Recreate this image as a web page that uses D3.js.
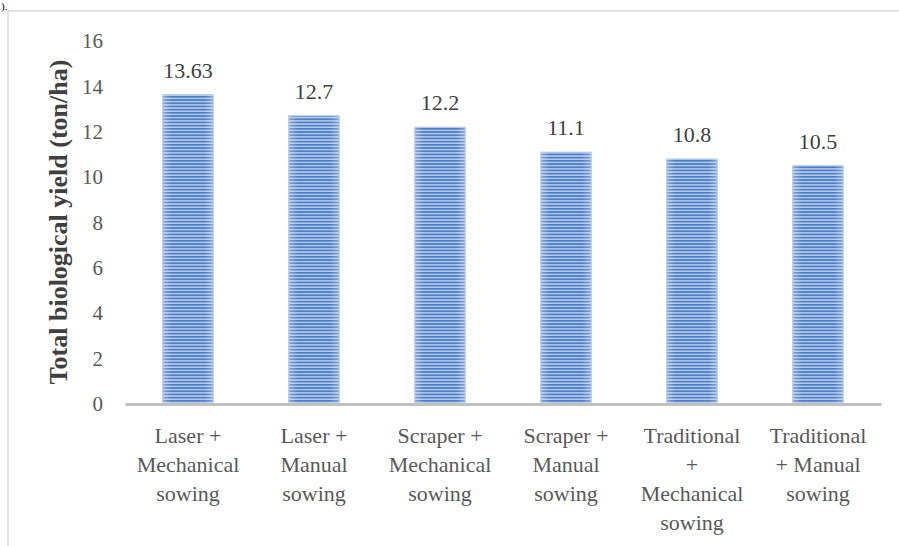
<!DOCTYPE html>
<html>
<head>
<meta charset="utf-8">
<script src="https://cdn.jsdelivr.net/npm/d3@7"></script>
<style>
  html, body { margin: 0; padding: 0; background: #ffffff; }
  svg { display: block; }
  text { font-family: "Liberation Serif", "Times New Roman", serif; }
</style>
</head>
<body>
<svg id="chart" width="899" height="546"></svg>
<script>
// Treatment combinations and their total biological yield (ton/ha)
const categories = [
  "Laser + Mechanical sowing",
  "Laser + Manual sowing",
  "Scraper + Mechanical sowing",
  "Scraper + Manual sowing",
  "Traditional + Mechanical sowing",
  "Traditional + Manual sowing"
];
const yieldValues = [13.63, 12.7, 12.2, 11.1, 10.8, 10.5];
const valueLabels = ["13.63", "12.7", "12.2", "11.1", "10.8", "10.5"];
const yTicks = [0, 2, 4, 6, 8, 10, 12, 14, 16];
const yTitle = "Total biological yield (ton/ha)";

const svg = d3.select("#chart");

// Plot area geometry
const plot = { left: 125, right: 881, top: 41, bottom: 404 };

const x = d3.scaleBand()
  .domain(categories)
  .range([plot.left, plot.right])
  .paddingInner(0.6)
  .paddingOuter(0.3);

const y = d3.scaleLinear()
  .domain([0, 16])
  .range([plot.bottom, plot.top]);

// Horizontal-line fill used by the bars
const defs = svg.append("defs");
const pat = defs.append("pattern")
  .attr("id", "hlines")
  .attr("patternUnits", "userSpaceOnUse")
  .attr("width", 8)
  .attr("height", 3.2);
pat.append("rect").attr("width", 8).attr("height", 3.2).attr("fill", "#b3cbec");
pat.append("rect").attr("y", 0).attr("width", 8).attr("height", 1.7).attr("fill", "#4d7cc3");

const sheen = defs.append("linearGradient")
  .attr("id", "sheen")
  .attr("x1", "0").attr("x2", "1").attr("y1", "0").attr("y2", "0");
sheen.append("stop").attr("offset", "0%").attr("stop-color", "#ffffff").attr("stop-opacity", 0.3);
sheen.append("stop").attr("offset", "18%").attr("stop-color", "#ffffff").attr("stop-opacity", 0.0);
sheen.append("stop").attr("offset", "82%").attr("stop-color", "#ffffff").attr("stop-opacity", 0.0);
sheen.append("stop").attr("offset", "100%").attr("stop-color", "#ffffff").attr("stop-opacity", 0.3);

// Chart frame (top and left edges)
svg.append("line")
  .attr("x1", 8).attr("x2", 899).attr("y1", 11).attr("y2", 11)
  .attr("stroke", "#d9d9d9").attr("stroke-width", 1.5);
svg.append("line")
  .attr("x1", 8).attr("x2", 8).attr("y1", 11).attr("y2", 546)
  .attr("stroke", "#d9d9d9").attr("stroke-width", 1.5);

// Tail of the preceding paragraph's text
svg.append("text")
  .attr("x", 1).attr("y", 10)
  .attr("font-size", 11)
  .attr("fill", "#000")
  .text(").");

// Bars
const data = categories.map((c, i) => ({ c, v: yieldValues[i], label: valueLabels[i] }));

const bars = svg.append("g");
bars.selectAll("rect.bar")
  .data(data)
  .join("rect")
  .attr("class", "bar")
  .attr("x", d => x(d.c))
  .attr("width", x.bandwidth())
  .attr("y", d => y(d.v))
  .attr("height", d => y(0) - y(d.v))
  .attr("fill", "url(#hlines)")
  .attr("stroke", "#a9c3e8")
  .attr("stroke-width", 1);
bars.selectAll("rect.sheen")
  .data(data)
  .join("rect")
  .attr("class", "sheen")
  .attr("x", d => x(d.c))
  .attr("width", x.bandwidth())
  .attr("y", d => y(d.v))
  .attr("height", d => y(0) - y(d.v))
  .attr("fill", "url(#sheen)");

// Value labels
svg.append("g").selectAll("text")
  .data(data)
  .join("text")
  .attr("x", d => x(d.c) + x.bandwidth() / 2)
  .attr("y", d => y(d.v) - 17)
  .attr("text-anchor", "middle")
  .attr("font-size", 22)
  .attr("fill", "#404040")
  .text(d => d.label);

// Y axis (labels only)
const yAxis = svg.append("g")
  .attr("transform", `translate(${plot.left},0)`)
  .call(d3.axisLeft(y).tickValues(yTicks).tickSize(0).tickPadding(22).tickFormat(d3.format("d")));
yAxis.select(".domain").remove();
yAxis.selectAll("text")
  .attr("font-size", 21)
  .attr("fill", "#595959");

// X axis line with wrapped category labels
const xAxis = svg.append("g")
  .attr("transform", `translate(0,${plot.bottom})`)
  .call(d3.axisBottom(x).tickSize(0).tickSizeOuter(0).tickFormat(""));
xAxis.select(".domain")
  .attr("stroke", "#c0c0c0")
  .attr("stroke-width", 3);

const labelMaxWidth = 110;
const lineHeight = 29;
const labelGroup = svg.append("g");
categories.forEach(c => {
  const cx = x(c) + x.bandwidth() / 2;
  const t = labelGroup.append("text")
    .attr("x", cx)
    .attr("y", 443)
    .attr("text-anchor", "middle")
    .attr("font-size", 22)
    .attr("fill", "#595959");
  const words = c.split(" ");
  let line = [];
  let tspan = t.append("tspan").attr("x", cx).attr("dy", 0);
  words.forEach(w => {
    line.push(w);
    tspan.text(line.join(" "));
    if (tspan.node().getComputedTextLength() > labelMaxWidth && line.length > 1) {
      line.pop();
      tspan.text(line.join(" "));
      line = [w];
      tspan = t.append("tspan")
        .attr("x", cx)
        .attr("dy", lineHeight)
        .text(w);
    }
  });
});

// Y axis title
svg.append("text")
  .attr("transform", "translate(67,222) rotate(-90)")
  .attr("text-anchor", "middle")
  .attr("font-size", 26)
  .attr("font-weight", "bold")
  .attr("fill", "#404040")
  .text(yTitle);
</script>
</body>
</html>
